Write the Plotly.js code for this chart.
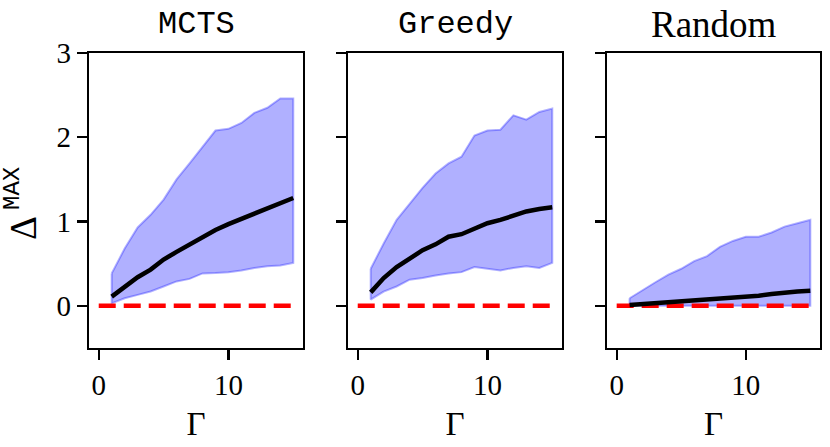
<!DOCTYPE html>
<html>
<head>
<meta charset="utf-8">
<script src="https://cdn.plot.ly/plotly-3.0.1.min.js"></script>
<style>html,body{margin:0;padding:0;background:#fff;}#chart{width:830px;height:447px;}</style>
</head>
<body>
<div id="chart"></div>
<script>
const gamma = [1,2,3,4,5,6,7,8,9,10,11,12,13,14,15];
const panelTitles = ["MCTS", "Greedy", "Random"];
const yLabelMain = "Δ";
const yLabelSup = "MAX";
const xLabel = "Γ";

const mctsMean  = [0.11,0.22,0.34,0.43,0.55,0.64,0.73,0.81,0.90,0.97,1.03,1.10,1.15,1.22,1.28];
const mctsUpper = [0.385,0.68,0.93,1.08,1.26,1.50,1.69,1.89,2.08,2.10,2.17,2.29,2.35,2.46,2.46];
const mctsLower = [0.03,0.09,0.13,0.17,0.23,0.29,0.32,0.385,0.39,0.40,0.42,0.45,0.47,0.48,0.51];

const greedyMean  = [0.16,0.33,0.46,0.56,0.66,0.73,0.82,0.85,0.92,0.98,1.02,1.07,1.12,1.15,1.17];
const greedyUpper = [0.44,0.74,1.02,1.21,1.40,1.57,1.69,1.77,2.02,2.08,2.09,2.26,2.21,2.30,2.34];
const greedyLower = [0.075,0.17,0.23,0.31,0.33,0.36,0.385,0.40,0.46,0.44,0.42,0.45,0.47,0.45,0.51];

const randomMean  = [0.01,0.02,0.03,0.04,0.05,0.06,0.07,0.08,0.10,0.11,0.12,0.14,0.16,0.17,0.18];
const randomUpper = [0.09,0.19,0.28,0.37,0.44,0.53,0.59,0.70,0.77,0.82,0.82,0.87,0.94,0.98,1.02];
const randomLower = [0,0,0,0,0,0,0,0,0,0,0,0,0,0,0];

const baselineX = [0, 15];
const baselineY = [0, 0];

const xTicks = [0, 10];
const yTicks = [0, 1, 2, 3];

const series = [
  {mean: mctsMean, upper: mctsUpper, lower: mctsLower},
  {mean: greedyMean, upper: greedyUpper, lower: greedyLower},
  {mean: randomMean, upper: randomUpper, lower: randomLower}
];

const W = 830, H = 447;
const xDomainsPx = [[89, 303], [348, 562], [607, 820]];
const yDomain = [1 - 348 / H, 1 - 53 / H];

const traces = [];
series.forEach((s, i) => {
  const xa = i === 0 ? 'x' : 'x' + (i + 1);
  const ya = i === 0 ? 'y' : 'y' + (i + 1);
  const polyX = gamma.concat(gamma.slice().reverse());
  const polyY = s.upper.concat(s.lower.slice().reverse());
  polyX.push(gamma[0]); polyY.push(s.upper[0]);
  traces.push({
    x: polyX, y: polyY, xaxis: xa, yaxis: ya, type: 'scatter', mode: 'lines',
    fill: 'toself', fillcolor: 'rgba(0,0,255,0.31)',
    line: {color: 'rgba(0,0,255,0.3)', width: 2}, hoverinfo: 'skip', showlegend: false
  });
  traces.push({
    x: baselineX, y: baselineY, xaxis: xa, yaxis: ya, type: 'scatter', mode: 'lines',
    line: {color: '#ff0000', width: 4.5, dash: '17px,8px'}, showlegend: false
  });
  traces.push({
    x: gamma, y: s.mean, xaxis: xa, yaxis: ya, type: 'scatter', mode: 'lines',
    line: {color: '#000000', width: 4.5}, showlegend: false
  });
});

const serif = 'Liberation Serif';
const mono = 'Liberation Mono';

const layout = {
  width: W, height: H,
  margin: {l: 0, r: 0, t: 0, b: 0},
  paper_bgcolor: '#fff', plot_bgcolor: '#fff',
  showlegend: false,
  annotations: [
    {text: yLabelMain, xref: 'paper', yref: 'paper', x: 23 / W, y: 1 - 228 / H,
     xanchor: 'center', yanchor: 'middle', textangle: -90, showarrow: false,
     font: {family: serif, size: 37, color: '#000'}},
    {text: yLabelSup, xref: 'paper', yref: 'paper', x: 13 / W, y: 1 - 189 / H,
     xanchor: 'center', yanchor: 'middle', textangle: -90, showarrow: false,
     font: {family: mono, size: 24, color: '#000'}}
  ],
  font: {family: serif, size: 29, color: '#000'}
};

for (let i = 0; i < 3; i++) {
  const sx = i === 0 ? '' : String(i + 1);
  const d = xDomainsPx[i];
  layout['xaxis' + sx] = {
    domain: [d[0] / W, d[1] / W], anchor: 'y' + sx,
    range: [-0.75, 15.75], tickvals: xTicks, ticktext: xTicks.map(String),
    ticks: 'outside', ticklen: 10, tickwidth: 2.2, tickcolor: '#000',
    showline: true, linecolor: '#000', linewidth: 2.2, mirror: true,
    showgrid: false, zeroline: false,
    tickfont: {family: serif, size: 29, color: '#000'},
    title: {text: xLabel, font: {family: serif, size: 33, color: '#000'}, standoff: 12}
  };
  layout['yaxis' + sx] = {
    domain: yDomain, anchor: 'x' + sx,
    range: [-0.5, 3], tickvals: yTicks, ticktext: yTicks.map(String),
    showticklabels: i === 0,
    ticks: 'outside', ticklen: 10, tickwidth: 2.2, tickcolor: '#000',
    showline: true, linecolor: '#000', linewidth: 2.2, mirror: true,
    showgrid: false, zeroline: false,
    tickfont: {family: serif, size: 29, color: '#000'}
  };
  layout.annotations.push({
    text: panelTitles[i], xref: 'paper', yref: 'paper',
    x: (d[0] + d[1]) / 2 / W, y: 1 - 24 / H, yanchor: 'middle', xanchor: 'center',
    showarrow: false,
    font: {family: i < 2 ? mono : serif, size: i < 2 ? 32 : 37, color: '#000'}
  });
}

Plotly.newPlot('chart', traces, layout, {staticPlot: true, displayModeBar: false});
</script>
</body>
</html>
